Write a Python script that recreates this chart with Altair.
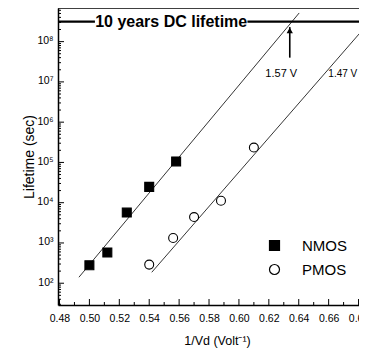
import altair as alt
import pandas as pd

# ---------------- data ----------------
nmos_x = [0.500, 0.512, 0.525, 0.540, 0.558]
nmos_y = [280, 580, 5700, 24700, 106000]
pmos_x = [0.540, 0.556, 0.570, 0.588, 0.610]
pmos_y = [290, 1330, 4400, 11200, 234000]

# fitted lines (end points)
nfit_x = [0.493, 0.6403]
nfit_y = [141, 5.15e8]
pfit_x = [0.5417, 0.686]
pfit_y = [187, 2.7e8]

# 10 years DC lifetime line (two segments around the label)
ten_years = 3.15e8
seg_x1 = [0.479, 0.6057]
seg_x2 = [0.5037, 0.686]
ten_label = "10 years DC lifetime"
ten_label_x = 0.5547

# arrow at 1.57 V crossing
arrow_x = 0.634
arrow_y_bottom = 4.0e7
arrow_y_top = 2.3e8
arrow_head_y = 1.9e8

volt_labels = ["1.57 V", "1.47 V"]
volt_x = [0.6283, 0.6598]
volt_y = [1.58e7, 1.58e7]
volt_align = ["center", "left"]

x_major = [0.48, 0.50, 0.52, 0.54, 0.56, 0.58, 0.60, 0.62, 0.64, 0.66, 0.68]
x_minor = [0.49, 0.51, 0.53, 0.55, 0.57, 0.59, 0.61, 0.63, 0.65, 0.67]
y_major = [1e2, 1e3, 1e4, 1e5, 1e6, 1e7, 1e8]
y_mult = [2, 3, 4, 5, 6, 7, 8, 9]
y_decades = [1e1, 1e2, 1e3, 1e4, 1e5, 1e6, 1e7, 1e8]
y_minor = [m * d for d in y_decades for m in y_mult if 28.8 <= m * d <= 6.8e8]

W, H = 301, 297
FONT = "Liberation Sans"

xs = alt.Scale(domain=[0.479, 0.6803], nice=False, zero=False)
ys = alt.Scale(type="log", domain=[28.8, 6.84e8], nice=False)

sup = "['\u2070','\u00b9','\u00b2','\u00b3','\u2074','\u2075','\u2076','\u2077','\u2078','\u2079']"
xaxis = alt.Axis(values=x_major, format=".2f", ticks=False, domain=True, domainColor="black",
                 domainWidth=1.5, grid=False,
                 labelFont=FONT, labelFontSize=10.5, labelPadding=8, labelColor="black",
                 labelFlush=False,
                 title="1/Vd (Volt\u207b\u00b9)", titleFont=FONT, titleFontSize=12.5,
                 titleFontWeight="normal", titleColor="black",
                 titleX=159, titleY=35, titleAlign="center", titleBaseline="middle")
yaxis = alt.Axis(values=y_major, labelExpr="'10' + " + sup + "[round(log(datum.value)/LN10)]",
                 ticks=False, domain=True, domainColor="black", domainWidth=1.5, grid=False,
                 labelFont=FONT, labelFontSize=10.5, labelPadding=5, labelColor="black",
                 labelOffset=-1,
                 title="Lifetime (sec)", titleFont=FONT, titleFontSize=14,
                 titleFontWeight="normal", titleColor="black",
                 titleX=-29, titleY=H / 2, titleAlign="center", titleBaseline="middle")


def X(f):
    return alt.X(f"{f}:Q", scale=xs, axis=xaxis)


def Y(f):
    return alt.Y(f"{f}:Q", scale=ys, axis=yaxis)


pts = pd.DataFrame({
    "x": nmos_x + pmos_x,
    "y": nmos_y + pmos_y,
    "device": ["NMOS"] * len(nmos_x) + ["PMOS"] * len(pmos_x),
})
fit = pd.DataFrame({
    "x": nfit_x + pfit_x,
    "y": nfit_y + pfit_y,
    "device": ["NMOS"] * 2 + ["PMOS"] * 2,
})
segs = pd.DataFrame({"x1": seg_x1, "x2": seg_x2, "y": [ten_years] * 2})
tenlab = pd.DataFrame({"x": [ten_label_x], "y": [ten_years], "t": [ten_label]})
arrow = pd.DataFrame({"x": [arrow_x], "y1": [arrow_y_bottom], "y2": [arrow_y_top], "yh": [arrow_head_y]})
volts = pd.DataFrame({"x": volt_x, "y": volt_y, "t": volt_labels, "a": volt_align})
xmaj = pd.DataFrame({"x": x_major})
xmin = pd.DataFrame({"x": x_minor})
ymaj = pd.DataFrame({"y": y_major})
ymin = pd.DataFrame({"y": y_minor})

fit_layer = alt.Chart(fit).mark_line(color="black", strokeWidth=0.8, clip=True).encode(
    x=X("x"), y=Y("y"), detail="device:N")

seg_layer = alt.Chart(segs).mark_rule(color="black", strokeWidth=2.2, clip=True).encode(
    x=X("x1"), x2="x2:Q", y=Y("y"))

ten_text = alt.Chart(tenlab).mark_text(font=FONT, fontSize=16, fontWeight="bold",
                                       color="black", align="center", baseline="middle").encode(
    x=X("x"), y=Y("y"), text="t:N")

arrow_shaft = alt.Chart(arrow).mark_rule(color="black", strokeWidth=1.6).encode(
    x=X("x"), y=Y("y1"), y2="y2:Q")
arrow_head = alt.Chart(arrow).mark_point(shape="triangle-up", filled=True, color="black",
                                         size=40, opacity=1).encode(x=X("x"), y=Y("yh"))

volt_text = alt.layer(
    alt.Chart(volts).transform_filter(alt.datum.a == "center").mark_text(
        font=FONT, fontSize=11, color="black", baseline="middle", align="center").encode(
        x=X("x"), y=Y("y"), text="t:N"),
    alt.Chart(volts).transform_filter(alt.datum.a == "left").mark_text(
        font=FONT, fontSize=10, color="black", baseline="middle", align="left").encode(
        x=X("x"), y=Y("y"), text="t:N"),
)

legend = alt.Legend(title=None, orient="none", legendX=209, legendY=230,
                    labelFont=FONT, labelFontSize=15, labelColor="black", labelOffset=20,
                    symbolStrokeWidth=1.2, symbolSize=100,
                    rowPadding=8, padding=0)
dom = ["NMOS", "PMOS"]
points = alt.Chart(pts).mark_point(strokeWidth=1.1, size=80, opacity=1, fillOpacity=1).encode(
    x=X("x"), y=Y("y"),
    shape=alt.Shape("device:N", scale=alt.Scale(domain=dom, range=["square", "circle"]), legend=legend),
    fill=alt.Fill("device:N", scale=alt.Scale(domain=dom, range=["black", "transparent"]), legend=legend),
    stroke=alt.Stroke("device:N", scale=alt.Scale(domain=dom, range=["black", "black"]), legend=legend),
)

xmaj_ticks = alt.Chart(xmaj).mark_rule(color="black", strokeWidth=1).encode(
    x=X("x"), y=alt.value(H), y2=alt.value(H - 6))
xmin_ticks = alt.Chart(xmin).mark_rule(color="black", strokeWidth=1).encode(
    x=X("x"), y=alt.value(H), y2=alt.value(H - 3))
ymaj_ticks = alt.Chart(ymaj).mark_rule(color="black", strokeWidth=1).encode(
    y=Y("y"), x=alt.value(0), x2=alt.value(6))
ymin_ticks = alt.Chart(ymin).mark_rule(color="black", strokeWidth=1).encode(
    y=Y("y"), x=alt.value(0), x2=alt.value(3))
top_border = alt.Chart(pd.DataFrame({"x": [0]})).mark_rule(color="black", strokeWidth=1.5).encode(
    x=alt.value(0), x2=alt.value(W), y=alt.value(0))

chart = alt.layer(
    xmaj_ticks, xmin_ticks, ymaj_ticks, ymin_ticks, top_border,
    fit_layer, seg_layer, ten_text, arrow_shaft, arrow_head, volt_text, points,
).properties(
    width=W, height=H,
    autosize=alt.AutoSizeParams(type="none"),
    padding={"left": 50, "top": 0, "right": 0, "bottom": 43},
    background="white",
).configure_view(
    strokeWidth=0
)

chart.save("out.html", embed_options={"renderer": "svg", "actions": False})
